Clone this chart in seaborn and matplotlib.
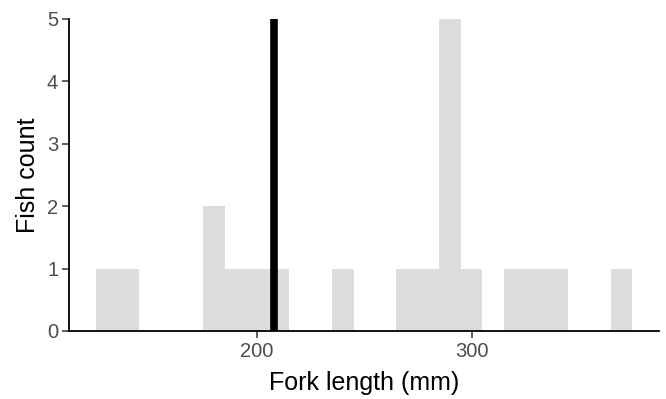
import matplotlib
matplotlib.use("Agg")
import matplotlib.pyplot as plt
import seaborn as sns
import pandas as pd

# Histogram bins (10 mm wide) and fish counts per bin
bin_centers = [130, 140, 180, 190, 200, 210, 240, 270, 280, 290, 300, 320, 330, 340, 370]
fish_counts = [1, 1, 2, 1, 1, 1, 1, 1, 1, 5, 1, 1, 1, 1, 1]
reference_length = 208
y_ticks = [0, 1, 2, 3, 4, 5]
x_ticks = [200, 300]

df = pd.DataFrame({"fork_length": bin_centers, "count": fish_counts})

sns.set_theme(style="ticks")
plt.rcParams["font.family"] = ["Liberation Sans", "DejaVu Sans"]

fig = plt.figure(figsize=(6.66, 3.99), dpi=100)
ax = fig.add_axes([69.3 / 666, 1 - 331 / 399, 590 / 666, 312 / 399])

sns.histplot(data=df, x="fork_length", weights="count", binwidth=10,
             binrange=(125, 375), color="#DDDDDD", alpha=1, edgecolor="none",
             linewidth=0, ax=ax)
ax.axvline(reference_length, color="black", linewidth=5.5, zorder=3)

ax.set_xlim(112.5, 387.5)
ax.set_ylim(0, 5)
ax.set_xticks(x_ticks)
ax.set_yticks(y_ticks)
ax.set_xlabel("Fork length (mm)", fontsize=18, color="black", labelpad=7)
ax.set_ylabel("Fish count", fontsize=18, color="black", labelpad=5)
ax.tick_params(axis="both", labelsize=14.5, labelcolor="#4D4D4D", color="#333333",
               length=5, width=1.1, pad=3)
for side in ("top", "right"):
    ax.spines[side].set_visible(False)
for side in ("left", "bottom"):
    ax.spines[side].set_color("black")
    ax.spines[side].set_linewidth(1.3)
ax.grid(False)

fig.savefig("out.png", dpi=100)
